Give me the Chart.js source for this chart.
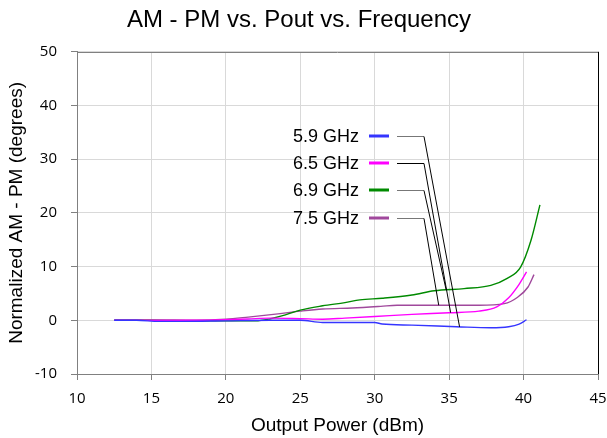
<!DOCTYPE html>
<html>
<head>
<meta charset="utf-8">
<script src="https://cdn.jsdelivr.net/npm/chart.js@4.4.1/dist/chart.umd.min.js"></script>
<style>
  html, body { margin: 0; padding: 0; background: #fff; }
  #wrap { width: 607px; height: 438px; }
</style>
</head>
<body>
<div id="wrap"><canvas id="amPmChart"></canvas></div>
<script>
// series names and colours
const seriesNames = ["5.9 GHz", "6.5 GHz", "6.9 GHz", "7.5 GHz"];
const seriesColors = ["#3535ff", "#ff00ff", "#008a00", "#a0489c"];

// output power (dBm) / AM-PM (deg)
const pout59 = [12.5, 14, 15.5, 17, 20, 23, 25, 26.5, 28, 30, 30.5, 32.5, 35.5, 37.8, 39, 39.7, 40.2];
const ampm59 = [0, 0, -0.2, -0.2, -0.1, 0, 0, -0.4, -0.4, -0.4, -0.7, -0.9, -1.2, -1.4, -1.2, -0.7, 0.1];

const pout65 = [12.5, 15, 18, 20, 21.5, 23, 25, 26.5, 28, 30, 32.5, 35, 37, 38.2, 39, 39.7, 40.2];
const ampm65 = [0, 0, 0, 0.1, 0.25, 0.4, 0.3, 0.2, 0.4, 0.7, 1.1, 1.4, 1.7, 2.5, 4.2, 6.7, 9.0];

const pout69 = [12.5, 15, 18, 20, 22, 23, 24, 25, 26.5, 28, 29, 30.5, 32.5, 34, 36, 37.8, 38.9, 39.8, 40.5, 41.1];
const ampm69 = [0, 0, -0.1, -0.1, -0.1, 0.3, 1.0, 1.9, 2.7, 3.3, 3.8, 4.1, 4.7, 5.5, 5.9, 6.5, 7.8, 9.9, 14.9, 21.5];

const pout75 = [12.5, 15, 18, 20, 21.5, 23.5, 25, 26.5, 28.5, 30.4, 31.5, 37, 38.7, 39.6, 40.3, 40.7];
const ampm75 = [0, 0, 0, 0.2, 0.6, 1.2, 1.7, 2.1, 2.3, 2.6, 2.8, 2.8, 3.1, 4.3, 6.2, 8.5];

// axis ticks
const xTicks = [10, 15, 20, 25, 30, 35, 40, 45];
const yTicks = [-10, 0, 10, 20, 30, 40, 50];

// where each leader line touches its curve (dBm)
const leaderTargets = [35.7, 35.1, 34.8, 34.3];

const allX = [pout59, pout65, pout69, pout75];
const allY = [ampm59, ampm65, ampm69, ampm75];

function toPoints(xs, ys) {
  return xs.map((x, i) => ({ x: x, y: ys[i] }));
}

function interp(xs, ys, x) {
  for (let i = 1; i < xs.length; i++) {
    if (x <= xs[i]) {
      const t = (x - xs[i - 1]) / (xs[i] - xs[i - 1]);
      return ys[i - 1] + t * (ys[i] - ys[i - 1]);
    }
  }
  return ys[ys.length - 1];
}

// legend with leader lines, like the original
const leaderLegend = {
  id: "leaderLegend",
  afterDatasetsDraw(chart) {
    const ctx = chart.ctx;
    const xs = chart.scales.x, ys = chart.scales.y;
    const area = chart.chartArea;
    const rowY = [136, 163, 190, 218];
    ctx.save();
    ctx.font = "18px 'Liberation Sans', Arial, sans-serif";
    ctx.textAlign = "right";
    ctx.textBaseline = "middle";
    seriesNames.forEach((name, i) => {
      const y = rowY[i];
      ctx.fillStyle = "#000";
      ctx.fillText(name, 359, y + 1);
      ctx.strokeStyle = seriesColors[i];
      ctx.lineWidth = 3;
      ctx.beginPath();
      ctx.moveTo(369, y);
      ctx.lineTo(389, y);
      ctx.stroke();
      ctx.strokeStyle = i === 1 ? "#000" : "#777";
      ctx.lineWidth = 1;
      ctx.beginPath();
      ctx.moveTo(397, y + 0.5);
      ctx.lineTo(424, y + 0.5);
      ctx.stroke();
      const tx = leaderTargets[i];
      const ty = interp(allX[i], allY[i], tx);
      ctx.strokeStyle = "#000";
      ctx.beginPath();
      ctx.moveTo(424, y + 0.5);
      ctx.lineTo(xs.getPixelForValue(tx), ys.getPixelForValue(ty));
      ctx.stroke();
    });
    // frame: gray top, black right
    ctx.lineWidth = 1;
    ctx.strokeStyle = "#808080";
    ctx.beginPath();
    ctx.moveTo(area.left, Math.round(area.top) + 0.5);
    ctx.lineTo(area.right, Math.round(area.top) + 0.5);
    ctx.stroke();
    ctx.strokeStyle = "#000";
    ctx.beginPath();
    ctx.moveTo(Math.round(area.right) + 0.5, area.top);
    ctx.lineTo(Math.round(area.right) + 0.5, area.bottom);
    ctx.stroke();
    ctx.restore();
  }
};

const datasets = seriesNames.map((name, i) => ({
  label: name,
  data: toPoints(allX[i], allY[i]),
  borderColor: seriesColors[i],
  backgroundColor: seriesColors[i],
  borderWidth: 1.4,
  pointRadius: 0,
  cubicInterpolationMode: "monotone",
  fill: false
}));

const tickFont = { family: "'Open Sans', 'Liberation Sans', sans-serif", size: 15 };
const titleFont = { family: "'Liberation Sans', Arial, sans-serif", size: 19 };

new Chart(document.getElementById("amPmChart"), {
  type: "line",
  data: { datasets: datasets },
  options: {
    responsive: true,
    maintainAspectRatio: false,
    animation: false,
    layout: { padding: { left: 0, right: 9, top: 0, bottom: 0 } },
    plugins: {
      legend: { display: false },
      tooltip: { enabled: false },
      title: {
        display: true,
        text: "AM - PM vs. Pout vs. Frequency",
        color: "#000",
        font: { family: "'Liberation Sans', Arial, sans-serif", size: 24, weight: "normal" },
        padding: { top: 6, bottom: 17 }
      }
    },
    scales: {
      x: {
        type: "linear",
        min: 10,
        max: 45,
        afterBuildTicks: (s) => { s.ticks = xTicks.map(v => ({ value: v })); },
        afterFit: (s) => { s.height = 64; s.paddingRight = 0; s.paddingLeft = 0; },
        ticks: { color: "#000", font: tickFont, padding: 10, maxRotation: 0 },
        grid: { color: "#d9d9d9", tickColor: "#808080", tickLength: 6 },
        border: { color: "#808080" },
        title: { display: true, text: "Output Power (dBm)", color: "#000", font: titleFont, padding: { top: 0, bottom: 1 } }
      },
      y: {
        type: "linear",
        min: -10,
        max: 50,
        afterBuildTicks: (s) => { s.ticks = yTicks.map(v => ({ value: v })); },
        afterFit: (s) => { s.width = 77; },
        ticks: { color: "#000", font: tickFont, padding: 14 },
        grid: { color: "#d9d9d9", tickColor: "#808080", tickLength: 6 },
        border: { color: "#808080" },
        title: { display: true, text: "Normalized AM - PM (degrees)", color: "#000", font: titleFont, padding: { top: 5, bottom: 0 } }
      }
    }
  },
  plugins: [leaderLegend]
});
</script>
</body>
</html>
